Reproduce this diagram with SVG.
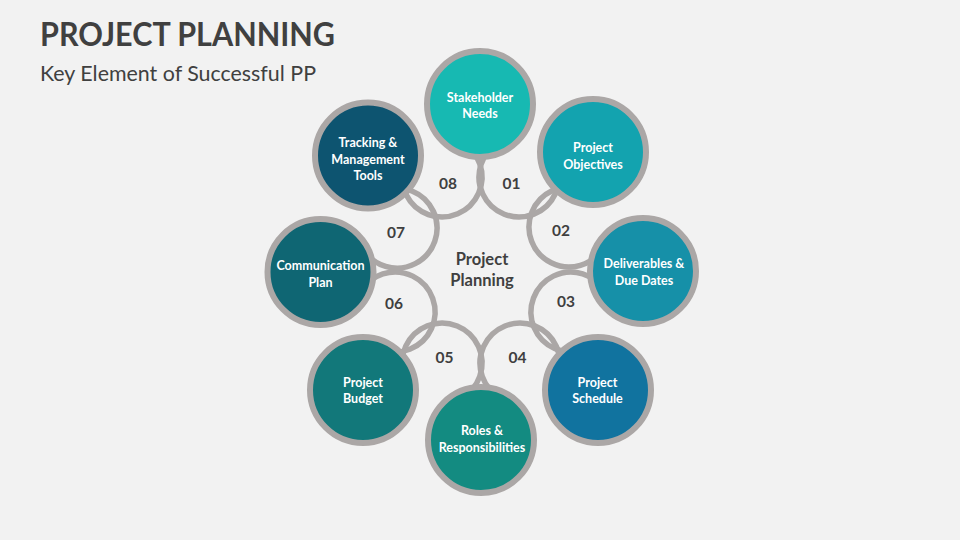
<svg xmlns="http://www.w3.org/2000/svg" width="960" height="540" viewBox="0 0 960 540">
<style>
.bg{fill:#F2F2F2}
.title{font-family:Lato,"Open Sans","Liberation Sans",sans-serif;font-weight:700;font-size:32px;fill:#404040}
.sub{font-family:Lato,"Open Sans","Liberation Sans",sans-serif;font-weight:400;font-size:21px;fill:#404040}
.ring{fill:none;stroke:#ABA7A6;stroke-width:5.5}
.node{stroke:#ABA7A6;stroke-width:6}
.nt{font-family:Lato,"Open Sans","Liberation Sans",sans-serif;font-weight:700;font-size:12.5px;fill:#FFFFFF;text-anchor:middle}
.num{font-family:Lato,"Open Sans","Liberation Sans",sans-serif;font-weight:700;font-size:15.5px;fill:#3F3F3F;text-anchor:middle}
.ct{font-family:Lato,"Open Sans","Liberation Sans",sans-serif;font-weight:700;font-size:16.5px;fill:#404040;text-anchor:middle}
</style>
<rect class="bg" x="0" y="0" width="960" height="540"/>
<text class="title" x="40" y="46" textLength="295" lengthAdjust="spacingAndGlyphs">PROJECT PLANNING</text>
<text class="sub" x="40" y="81" textLength="276" lengthAdjust="spacingAndGlyphs">Key Element of Successful PP</text>

<g id="connectors">
  <path class="ring" d="M556.9,164.2 A40,40 0 1 1 500.2,141.7"/>
  <path class="ring" d="M603.4,247.4 A40,40 0 1 1 581.2,188.9"/>
  <path class="ring" d="M584.1,349.8 A40,40 0 1 1 605.7,292.2"/>
  <path class="ring" d="M501.9,398.7 A40,40 0 1 1 557.8,376.1"/>
  <path class="ring" d="M404.2,375.9 A40,40 0 1 1 460.1,398.7"/>
  <path class="ring" d="M359.8,293.1 A40,40 0 1 1 379.8,349.0"/>
  <path class="ring" d="M382.2,190.9 A40,40 0 1 1 362.3,247.9"/>
  <path class="ring" d="M460.5,141.5 A40,40 0 1 1 403.6,165.8"/>
  <text class="num" x="511.5" y="189">01</text>
  <text class="num" x="561" y="236">02</text>
  <text class="num" x="566" y="307">03</text>
  <text class="num" x="517.5" y="363">04</text>
  <text class="num" x="444.5" y="363">05</text>
  <text class="num" x="394" y="308.5">06</text>
  <text class="num" x="396" y="238">07</text>
  <text class="num" x="448" y="189">08</text>
</g>

<g id="center">
  <text class="ct" x="482" y="265">Project</text>
  <text class="ct" x="482" y="286">Planning</text>
</g>

<g id="node-stakeholder">
  <circle class="node" cx="480" cy="104" r="53" fill="#17B9B2"/>
  <text class="nt" x="480" y="101.5">Stakeholder</text>
  <text class="nt" x="480" y="118">Needs</text>
</g>
<g id="node-objectives">
  <circle class="node" cx="593" cy="152" r="53" fill="#13A3AF"/>
  <text class="nt" x="593" y="151.5">Project</text>
  <text class="nt" x="593" y="168.5">Objectives</text>
</g>
<g id="node-deliverables">
  <circle class="node" cx="643" cy="271" r="53" fill="#1690A8"/>
  <text class="nt" x="644" y="268">Deliverables &amp;</text>
  <text class="nt" x="644" y="285">Due Dates</text>
</g>
<g id="node-schedule">
  <circle class="node" cx="598" cy="390" r="53" fill="#11739F"/>
  <text class="nt" x="597.5" y="386.5">Project</text>
  <text class="nt" x="597.5" y="403">Schedule</text>
</g>
<g id="node-roles">
  <circle class="node" cx="481" cy="440" r="53" fill="#138B81"/>
  <text class="nt" x="482" y="435">Roles &amp;</text>
  <text class="nt" x="482" y="452">Responsibilities</text>
</g>
<g id="node-budget">
  <circle class="node" cx="363" cy="390" r="53" fill="#12787A"/>
  <text class="nt" x="363" y="386.5">Project</text>
  <text class="nt" x="363" y="403">Budget</text>
</g>
<g id="node-communication">
  <circle class="node" cx="320.5" cy="272" r="53" fill="#0F6673"/>
  <text class="nt" x="320.5" y="270">Communication</text>
  <text class="nt" x="320.5" y="286.5">Plan</text>
</g>
<g id="node-tracking">
  <circle class="node" cx="368" cy="155.5" r="53" fill="#0D5470"/>
  <text class="nt" x="368" y="146.5">Tracking &amp;</text>
  <text class="nt" x="368" y="163.5">Management</text>
  <text class="nt" x="368" y="180">Tools</text>
</g>
</svg>
